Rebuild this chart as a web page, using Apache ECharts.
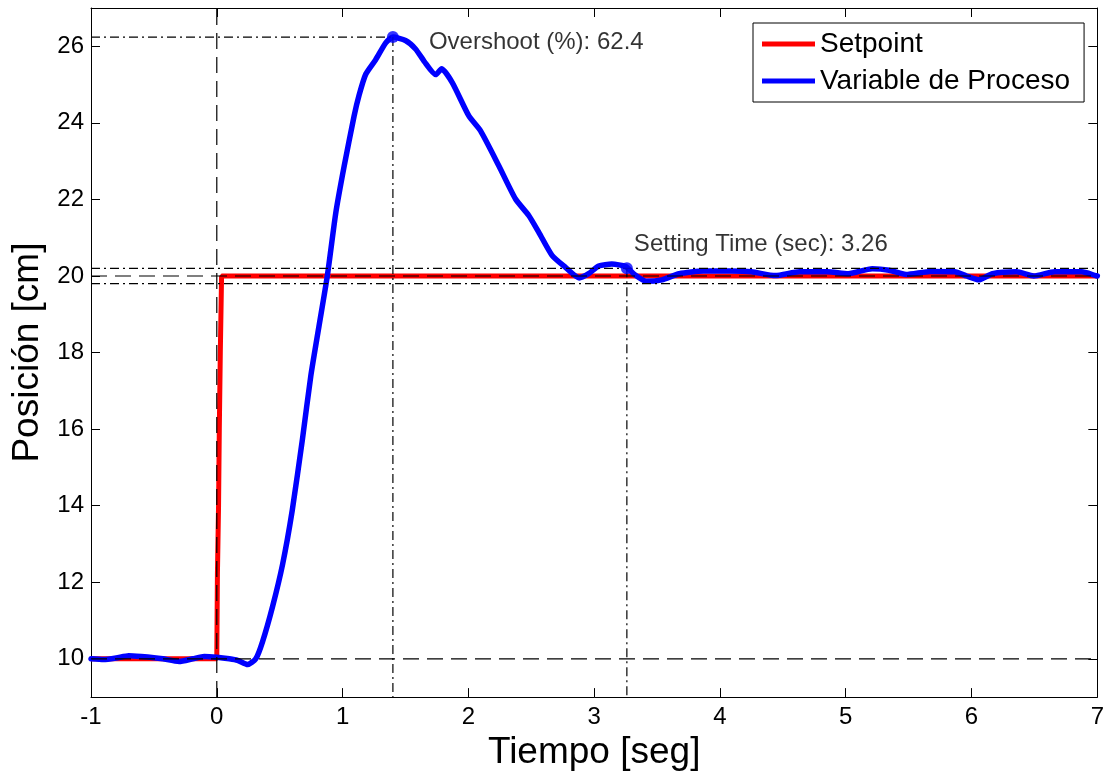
<!DOCTYPE html>
<html>
<head>
<meta charset="utf-8">
<script src="https://cdn.jsdelivr.net/npm/echarts@6/dist/echarts.min.js"></script>
<style>html,body{margin:0;padding:0;background:#fff}#c{width:1107px;height:776px}</style>
</head>
<body>
<div id="c"></div>
<script>
const xTicks = [-1, 0, 1, 2, 3, 4, 5, 6, 7];
const yTicks = [10, 12, 14, 16, 18, 20, 22, 24, 26];
const seriesNames = ['Setpoint', 'Variable de Proceso'];
const setpointData = [[-1,10],[0,10],[0.005,12.2],[0.014,14],[0.02,16],[0.028,18],[0.038,20],[7,20]];
const processData = [
 [-1,10.0],[-0.9,9.98],[-0.8,10.02],[-0.7,10.08],[-0.6,10.06],[-0.5,10.03],[-0.43,10.0],[-0.3,9.93],
 [-0.19,10.0],[-0.1,10.06],[0.0,10.04],[0.1,10.0],[0.165,9.96],[0.245,9.85],[0.31,10.0],[0.364,10.45],
 [0.443,11.36],[0.522,12.45],[0.60,13.88],[0.681,15.74],[0.747,17.38],[0.813,18.70],[0.879,20.01],
 [0.946,21.65],[1.012,22.86],[1.091,24.17],[1.131,24.72],[1.184,25.27],[1.263,25.65],[1.343,26.09],
 [1.4,26.24],[1.50,26.15],[1.58,25.93],[1.65,25.6],[1.74,25.26],[1.787,25.41],[1.872,25.05],[2.004,24.18],
 [2.097,23.79],[2.242,22.88],[2.375,22.01],[2.48,21.58],[2.56,21.14],[2.665,20.54],[2.77,20.23],[2.88,19.95],
 [2.956,20.06],[3.036,20.26],[3.14,20.31],[3.25,20.25],[3.32,20.04],[3.416,19.86],[3.539,19.9],[3.676,20.06],
 [3.868,20.13],[4.086,20.13],[4.25,20.11],[4.44,20.01],[4.634,20.11],[4.853,20.11],[5.02,20.06],[5.21,20.19],
 [5.345,20.15],[5.48,20.04],[5.674,20.12],[5.866,20.11],[5.96,20.0],[6.057,19.9],[6.167,20.06],[6.358,20.11],
 [6.495,20.0],[6.66,20.11],[6.877,20.11],[6.987,20.01],[7,20.0]
];
const overshootPoint = [1.4, 26.24];
const settlingPoint = [3.26, 20.2];
const overshootText = 'Overshoot (%): 62.4';
const settlingText = 'Setting Time (sec): 3.26';
const refDashed = [ [[-1,10],[7,10]], [[-1,20],[7,20]], [[0,9],[0,27]] ];
const refDashDot = [ [[-1,26.24],[1.4,26.24]], [[1.4,26.24],[1.4,9]], [[-1,20.2],[7,20.2]], [[-1,19.8],[7,19.8]], [[3.26,20.2],[3.26,9]] ];

const FONT = "'Liberation Sans', Arial, sans-serif";
const chart = echarts.init(document.getElementById('c'), null, {renderer: 'canvas'});

const axisBase = {
  type: 'value', splitLine: {show: false},
  axisLine: {show: true, onZero: false, lineStyle: {color: '#000', width: 1}},
  axisTick: {show: true, inside: true, length: 9, lineStyle: {color: '#000'}}
};

const refSeries = [];
refDashed.forEach(seg => refSeries.push({
  type: 'line', data: seg, showSymbol: false, silent: true, z: 5,
  lineStyle: {color: '#000', width: 1.2, type: [16, 8]}
}));
refDashDot.forEach(seg => refSeries.push({
  type: 'line', data: seg, showSymbol: false, silent: true, z: 5,
  lineStyle: {color: '#000', width: 1.2, type: [9, 4, 2, 4]}
}));

chart.setOption({
  animation: false,
  backgroundColor: '#fff',
  grid: {left: 91, right: 8, top: 8, bottom: 76, containLabel: false},
  legend: {
    orient: 'vertical', left: 753, top: 23,
    data: [
      {name: seriesNames[0], itemStyle: {color: '#ff0000'}},
      {name: seriesNames[1], itemStyle: {color: '#0000ff'}}
    ],
    icon: 'rect', itemWidth: 53, itemHeight: 5, itemGap: 9,
    padding: [7, 14, 7, 9],
    backgroundColor: '#fff', borderColor: '#000', borderWidth: 1, borderRadius: 0,
    textStyle: {color: '#000', fontSize: 28, fontFamily: FONT, lineHeight: 27, padding: [0, 0, 0, 0]}
  },
  xAxis: [
    Object.assign({}, axisBase, {
      position: 'bottom', min: -1, max: 7, interval: 1,
      axisLabel: {color: '#000', fontSize: 24, fontFamily: FONT, margin: 8},
      name: 'Tiempo [seg]', nameLocation: 'middle', nameGap: 33,
      nameTextStyle: {color: '#000', fontSize: 37, fontFamily: FONT}
    }),
    Object.assign({}, axisBase, {
      position: 'top', min: -1, max: 7, interval: 1, axisLabel: {show: false}
    })
  ],
  yAxis: [
    Object.assign({}, axisBase, {
      position: 'left', min: 9, max: 27,
      axisLabel: {color: '#000', fontSize: 24, fontFamily: FONT, margin: 7, customValues: yTicks},
      axisTick: {show: true, inside: true, length: 9, lineStyle: {color: '#000'}, customValues: yTicks},
      name: 'Posición [cm]', nameLocation: 'middle', nameGap: 42, nameRotate: 90,
      nameTextStyle: {color: '#000', fontSize: 37, fontFamily: FONT}
    }),
    Object.assign({}, axisBase, {
      position: 'right', min: 9, max: 27, axisLabel: {show: false},
      axisTick: {show: true, inside: true, length: 9, lineStyle: {color: '#000'}, customValues: yTicks}
    })
  ],
  series: [
    {name: seriesNames[0], type: 'line', data: setpointData, showSymbol: false, z: 3,
     lineStyle: {color: '#ff0000', width: 5}, itemStyle: {color: '#ff0000'}},
    {name: seriesNames[1], type: 'line', data: processData, showSymbol: false, z: 4, smooth: 0.2,
     lineStyle: {color: '#0000ff', width: 5.5, join: 'round', cap: 'round'}, itemStyle: {color: '#0000ff'}}
  ].concat(refSeries).concat([
    {type: 'scatter', data: [overshootPoint], symbol: 'circle', symbolSize: 12, z: 6,
     itemStyle: {color: '#0000ff'},
     label: {show: true, formatter: overshootText, position: [42, 11], align: 'left', verticalAlign: 'middle',
             color: '#000', fontSize: 24, fontFamily: FONT}},
    {type: 'scatter', data: [settlingPoint], symbol: 'circle', symbolSize: 12, z: 6,
     itemStyle: {color: '#0000ff'},
     label: {show: true, formatter: settlingText, position: [13, -18], align: 'left', verticalAlign: 'middle',
             color: '#000', fontSize: 24, fontFamily: FONT}}
  ])
});
</script>
</body>
</html>
